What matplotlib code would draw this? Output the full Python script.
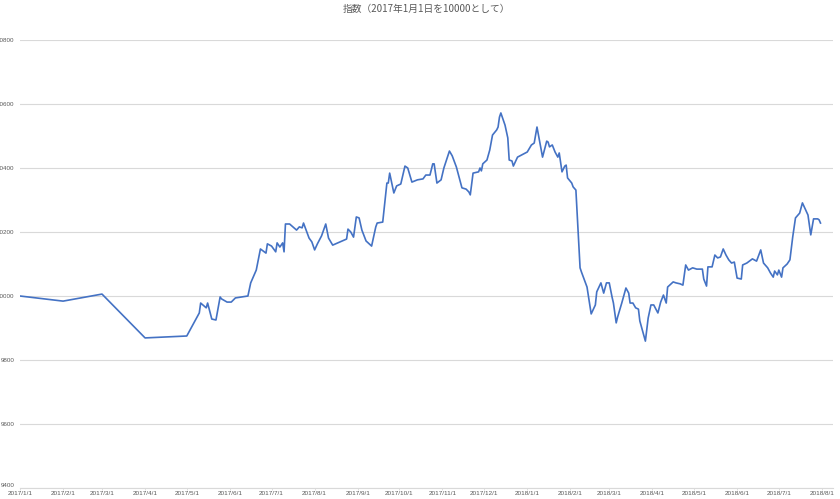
import matplotlib
matplotlib.use("Agg")
import matplotlib.pyplot as plt
import matplotlib.dates as mdates
import pandas as pd

# index values (2017/1/1 = 10000)
dates = [
    "2017-01-01", "2017-02-01", "2017-03-01", "2017-04-01", "2017-05-01",
    "2017-05-10", "2017-05-11", "2017-05-15", "2017-05-16", "2017-05-19",
    "2017-05-22", "2017-05-25", "2017-05-26", "2017-05-30", "2017-06-02",
    "2017-06-05", "2017-06-14", "2017-06-16", "2017-06-20", "2017-06-23",
    "2017-06-27", "2017-06-28", "2017-07-01", "2017-07-04", "2017-07-05",
    "2017-07-07", "2017-07-09", "2017-07-10", "2017-07-11", "2017-07-14",
    "2017-07-19", "2017-07-21", "2017-07-23", "2017-07-24", "2017-07-28",
    "2017-07-30", "2017-08-01", "2017-08-03", "2017-08-06", "2017-08-09",
    "2017-08-11", "2017-08-14", "2017-08-24", "2017-08-25", "2017-08-27",
    "2017-08-29", "2017-08-31", "2017-09-02", "2017-09-04", "2017-09-07",
    "2017-09-11", "2017-09-14", "2017-09-15", "2017-09-19", "2017-09-22",
    "2017-09-23", "2017-09-24", "2017-09-27", "2017-09-29", "2017-10-02",
    "2017-10-05", "2017-10-07", "2017-10-10", "2017-10-14", "2017-10-18",
    "2017-10-20", "2017-10-23", "2017-10-25", "2017-10-26", "2017-10-28",
    "2017-10-31", "2017-11-02", "2017-11-06", "2017-11-08", "2017-11-11",
    "2017-11-15", "2017-11-18", "2017-11-20", "2017-11-21", "2017-11-23",
    "2017-11-27", "2017-11-28", "2017-11-29", "2017-11-30", "2017-12-03",
    "2017-12-05", "2017-12-07", "2017-12-10", "2017-12-11", "2017-12-12",
    "2017-12-13", "2017-12-16", "2017-12-18", "2017-12-19", "2017-12-21",
    "2017-12-22", "2017-12-25", "2017-12-28", "2018-01-01", "2018-01-04",
    "2018-01-06", "2018-01-08", "2018-01-12", "2018-01-15", "2018-01-16",
    "2018-01-17", "2018-01-19", "2018-01-21", "2018-01-23", "2018-01-24",
    "2018-01-26", "2018-01-28", "2018-01-29", "2018-01-30", "2018-02-02",
    "2018-02-03", "2018-02-05", "2018-02-08", "2018-02-09", "2018-02-13",
    "2018-02-16", "2018-02-19", "2018-02-20", "2018-02-23", "2018-02-25",
    "2018-02-27", "2018-03-01", "2018-03-03", "2018-03-04", "2018-03-06",
    "2018-03-07", "2018-03-10", "2018-03-13", "2018-03-15", "2018-03-16",
    "2018-03-18", "2018-03-20", "2018-03-22", "2018-03-23", "2018-03-27",
    "2018-03-29", "2018-03-31", "2018-04-02", "2018-04-05", "2018-04-07",
    "2018-04-09", "2018-04-11", "2018-04-12", "2018-04-16", "2018-04-18",
    "2018-04-21", "2018-04-23", "2018-04-25", "2018-04-27", "2018-04-30",
    "2018-05-03", "2018-05-05", "2018-05-07", "2018-05-08", "2018-05-10",
    "2018-05-11", "2018-05-14", "2018-05-16", "2018-05-18", "2018-05-20",
    "2018-05-22", "2018-05-24", "2018-05-26", "2018-05-28", "2018-05-30",
    "2018-06-01", "2018-06-04", "2018-06-05", "2018-06-08", "2018-06-12",
    "2018-06-15", "2018-06-18", "2018-06-20", "2018-06-23", "2018-06-25",
    "2018-06-27", "2018-06-28", "2018-06-30", "2018-07-01", "2018-07-03",
    "2018-07-04", "2018-07-07", "2018-07-09", "2018-07-11", "2018-07-13",
    "2018-07-16", "2018-07-18", "2018-07-22", "2018-07-24", "2018-07-26",
    "2018-07-29", "2018-07-30", "2018-07-31",
]
index_values = [
    10000, 9984, 10006, 9869, 9875,
    9947, 9978, 9963, 9978, 9928,
    9925, 9997, 9991, 9981, 9981,
    9994, 10000, 10041, 10081, 10147,
    10134, 10163, 10156, 10138, 10166,
    10153, 10166, 10138, 10225, 10225,
    10206, 10216, 10213, 10228, 10181,
    10169, 10144, 10163, 10188, 10225,
    10181, 10159, 10178, 10209, 10200,
    10184, 10247, 10244, 10206, 10172,
    10156, 10216, 10228, 10231, 10353,
    10353, 10384, 10322, 10344, 10350,
    10406, 10400, 10356, 10363, 10366,
    10378, 10378, 10413, 10413, 10353,
    10363, 10400, 10453, 10438, 10403,
    10338, 10334, 10325, 10316, 10384,
    10388, 10400, 10391, 10413, 10425,
    10456, 10503, 10519, 10528, 10559,
    10572, 10534, 10494, 10425, 10422,
    10406, 10434, 10441, 10450, 10472,
    10478, 10528, 10434, 10484, 10481,
    10466, 10472, 10450, 10434, 10447,
    10388, 10406, 10409, 10369, 10353,
    10341, 10331, 10088, 10075, 10028,
    9944, 9972, 10013, 10041, 10009,
    10041, 10041, 9997, 9978, 9916,
    9934, 9978, 10025, 10009, 9978,
    9978, 9963, 9959, 9922, 9859,
    9931, 9972, 9972, 9947, 9981,
    10003, 9978, 10028, 10044, 10041,
    10038, 10034, 10097, 10081, 10088,
    10084, 10084, 10084, 10053, 10031,
    10091, 10091, 10128, 10119, 10122,
    10147, 10128, 10113, 10103, 10106,
    10056, 10053, 10097, 10103, 10116,
    10109, 10144, 10103, 10088, 10072,
    10059, 10078, 10066, 10081, 10059,
    10088, 10100, 10113, 10184, 10244,
    10259, 10291, 10253, 10191, 10241,
    10241, 10238, 10228,
]
y_ticks = [9400, 9600, 9800, 10000, 10200, 10400, 10600, 10800]
title = "指数（2017年1月1日を10000として）"

dates = pd.to_datetime(dates)
tick_dates = pd.date_range("2017-01-01", "2018-08-01", freq="MS")

fig = plt.figure(figsize=(8.4, 4.99), dpi=100)
ax = fig.add_axes([20 / 840, 11 / 499, 813 / 840, 448 / 499])

ax.plot(dates, index_values, color="#4472C4", linewidth=1.2)

ax.set_ylim(9400, 10800)
ax.set_yticks(y_ticks)
ax.set_xlim(pd.Timestamp("2017-01-01"), pd.Timestamp("2018-08-09"))
ax.set_xticks(tick_dates)
ax.xaxis.set_major_formatter(
    matplotlib.ticker.FuncFormatter(
        lambda v, pos: "{0.year}/{0.month}/{0.day}".format(mdates.num2date(v))))

ax.grid(axis="y", color="#D9D9D9", linewidth=0.8)
ax.set_axisbelow(True)
for side in ["top", "right", "left"]:
    ax.spines[side].set_visible(False)
ax.spines["bottom"].set_color("#D9D9D9")
ax.spines["bottom"].set_linewidth(0.8)

tick_font = "Liberation Sans"
ax.tick_params(axis="y", length=0, pad=4.2, labelsize=4.5, labelcolor="#595959")
ax.tick_params(axis="x", length=1.5, width=0.6, color="#D9D9D9", pad=0.8,
               labelsize=4.6, labelcolor="#595959")
for lbl in ax.get_xticklabels() + ax.get_yticklabels():
    lbl.set_family([tick_font, "DejaVu Sans"])
# the bottom y label sits a little above the axis line, as in the reference
ax.get_yticklabels()[0].set_verticalalignment("bottom")

fig.text(426 / 840, 1 - 9 / 499, title, ha="center", va="center",
         fontsize=7, color="#595959",
         family=["Noto Sans CJK JP", "DejaVu Sans"])

fig.savefig("out.png", dpi=100)
